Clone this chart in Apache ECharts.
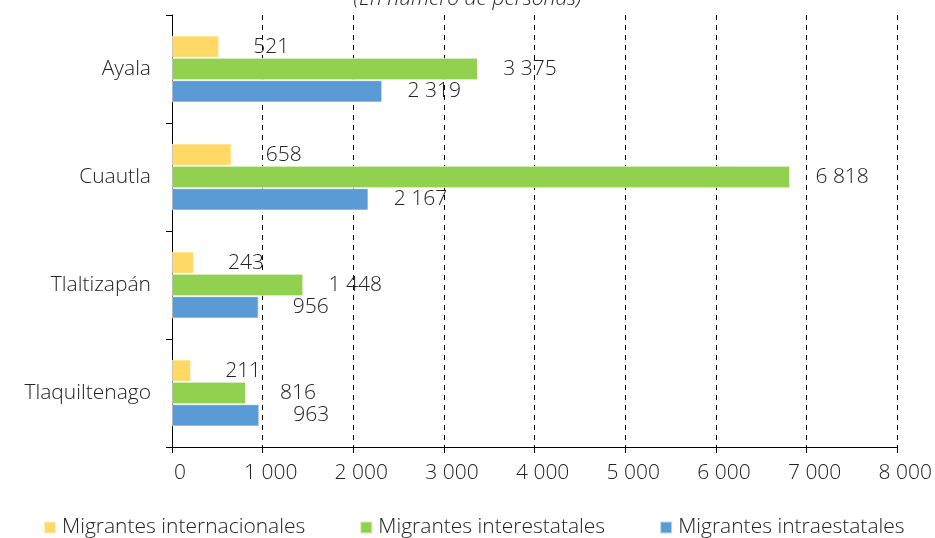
<!DOCTYPE html>
<html>
<head>
<meta charset="utf-8">
<script src="https://cdn.jsdelivr.net/npm/echarts@6/dist/echarts.min.js"></script>
<style>html,body{margin:0;padding:0;background:#fff;}#c{width:935px;height:538px;}</style>
</head>
<body>
<div id="c"></div>
<script>
const categories = ['Ayala', 'Cuautla', 'Tlaltizapán', 'Tlaquiltenago'];
const internacionales = [521, 658, 243, 211];
const interestatales = [3375, 6818, 1448, 816];
const intraestatales = [2319, 2167, 956, 963];
const seriesNames = ['Migrantes internacionales', 'Migrantes interestatales', 'Migrantes intraestatales'];
const xTicks = [0, 1000, 2000, 3000, 4000, 5000, 6000, 7000, 8000];

const fmt = v => String(v).replace(/\B(?=(\d{3})+(?!\d))/g, ' ');
const FONT = 'Open Sans';
const FW = 300;
const FS = 21;
const colors = ['#FFD966', '#92D050', '#5B9BD5'];

const chart = echarts.init(document.getElementById('c'), null, {renderer: 'canvas'});
function mk(name, data, color) {
  return {
    name: name, type: 'bar', data: data,
    barGap: '0%', barCategoryGap: '38%',
    itemStyle: {color: color, borderColor: 'rgba(255,255,255,0.6)', borderWidth: 1},
    label: {
      show: true, position: 'right', distance: 52, align: 'center',
      formatter: p => fmt(p.value),
      fontFamily: FONT, fontWeight: FW, fontSize: FS, color: '#222'
    },
    emphasis: {disabled: true}
  };
}
chart.setOption({
  animation: false,
  title: {
    text: '(En número de personas)', left: 'center', top: -16,
    textStyle: {fontFamily: FONT, fontStyle: 'italic', fontWeight: FW, fontSize: FS, color: '#222'}
  },
  color: colors,
  grid: {left: 172, right: 33, top: 15, bottom: 91, containLabel: false},
  legend: {
    data: seriesNames, top: 512, left: 38,
    icon: 'rect', itemWidth: 12, itemHeight: 12, itemGap: 54,
    textStyle: {fontFamily: FONT, fontWeight: FW, fontSize: FS, color: '#222', padding: [0, 0, 0, 1]}
  },
  xAxis: {
    type: 'value', min: 0, max: 8000, interval: 1000,
    axisLine: {show: true, lineStyle: {color: '#000', width: 1}},
    axisTick: {show: true, length: 6, lineStyle: {color: '#000'}},
    axisLabel: {
      formatter: v => fmt(v), fontFamily: FONT, fontWeight: FW, fontSize: FS, color: '#222',
      margin: 16, padding: [0, 0, 0, 16]
    },
    splitLine: {show: true, lineStyle: {color: '#000', type: [5, 5], width: 1}}
  },
  yAxis: {
    type: 'category', data: categories, inverse: true,
    axisLine: {show: true, lineStyle: {color: '#000', width: 1}},
    axisTick: {show: true, length: 6, lineStyle: {color: '#000'}},
    axisLabel: {fontFamily: FONT, fontWeight: FW, fontSize: FS, color: '#222', margin: 21}
  },
  series: [
    mk(seriesNames[0], internacionales, colors[0]),
    mk(seriesNames[1], interestatales, colors[1]),
    mk(seriesNames[2], intraestatales, colors[2])
  ]
});
</script>
</body>
</html>
